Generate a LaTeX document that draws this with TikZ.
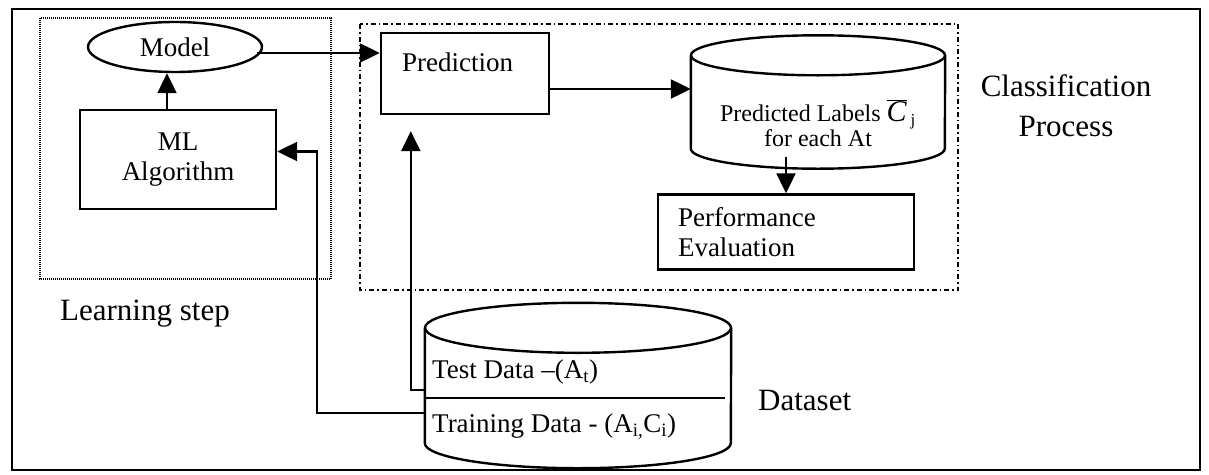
\documentclass[tikz,border=0pt]{standalone}
\usepackage{fontspec}
\setmainfont{Liberation Serif}
\usetikzlibrary{arrows.meta,calc,positioning,shapes.geometric}

\newcommand{\mainsize}{\fontsize{27}{30}\selectfont}
\newcommand{\labelsize}{\fontsize{31}{40}\selectfont}
\newcommand{\storesize}{\fontsize{24}{25}\selectfont}

% cylinder outline round an empty node: #1 node, #2 x radius, #3 y radius
\newcommand{\drum}[3]{%
  \draw[wire] ($(#1.north west)+(0,#3)$) -- ($(#1.south west)-(0,#3)$)
    arc[start angle=180, end angle=360, x radius=#2pt, y radius=#3pt]
    -- ($(#1.north east)+(0,#3)$);
  \draw[wire] ($(#1.north)+(0,#3)$) ellipse[x radius=#2pt, y radius=#3pt];
}

\tikzset{
  wire/.style={line width=2.4pt},
  box/.style={draw, line width=2.4pt, inner sep=0pt},
  drumbox/.style={inner sep=0pt},
  arr/.style={line width=2.2pt, -{Triangle[length=20pt,width=19pt]}},
}

\begin{document}
\begin{tikzpicture}[x=1pt, y=-1pt, font=\mainsize]
    \useasboundingbox (0,0) rectangle (1209,474);

    % outer frame and the two groups
    \draw[line width=2.2pt] (12,9) rectangle (1200,470);
    \draw[line width=2.4pt, dash pattern=on 1pt off 1pt] (40,18) rectangle (331,279);
    \draw[line width=2.4pt, dash pattern=on 5pt off 3pt on 1.5pt off 3pt] (360,24) rectangle (958,290);

    % ---------- learning step

    \node[draw, ellipse, line width=2.4pt, inner sep=0pt,
          minimum width=174pt, minimum height=50pt] (model) at (175,47) {Model};
    \node[box, minimum width=196pt, minimum height=99pt, align=center] (ml) at (178,159.5) {
    ML\\Algorithm
    };
    \node[anchor=base west, inner sep=0pt, font=\labelsize] (learnlbl) at (60,320) {Learning step};

    % ---------- classification process

    \node[box, minimum width=168pt, minimum height=81pt] (pred) at (465,73.5) {};
    \node[anchor=west, inner sep=0pt] (predtext) at (402,62) {Prediction};

    \node[drumbox, minimum width=254pt, minimum height=133pt] (store) at (818,102) {};
    \drum{store}{127}{20}
    \node[align=center, inner sep=0pt, font=\storesize] (storetext) at (818,123) {
    Predicted Labels {\fontsize{30}{25}\selectfont$\overline{\mbox{\itshape C}}$}\,\textsubscript{j}\\
    for each At
    };

    \node[box, minimum width=256pt, minimum height=75pt, text width=216pt,
          inner xsep=20pt, align=left] (perf) at (786,232) {
    Performance\\
    Evaluation
    };

    \node[align=center, inner sep=0pt, font=\labelsize] (classlbl) at (1066,106) {
    Classification\\
    Process
    };

    % ---------- dataset

    \node[drumbox, minimum width=306pt, minimum height=165pt] (dataset) at (578,385.5) {};
    \drum{dataset}{153}{25}
    \draw[wire] ($(dataset.west)+(0,12.5)$) -- ($(dataset.east)+(-6,12.5)$);
    \node[anchor=west, inner sep=0pt] (testdata) at (432,372) {Test Data --(A\textsubscript{t})};
    \node[anchor=west, inner sep=0pt] (traindata) at (432,427) {Training Data - (A\textsubscript{i,}C\textsubscript{i})};
    \node[anchor=base west, inner sep=0pt, font=\labelsize] (datalbl) at (758,410) {Dataset};

    % ---------- connectors

    \draw[arr] (ml.north) ++(-11,0) coordinate (a1) -- (a1 |- model.south);
    \draw[arr] (model.east) ++(-6,6) coordinate (a2) -- (a2 -| pred.west);
    \draw[arr] (pred.east) ++(0,15.5) coordinate (a3) -- (a3 -| store.west);
    \draw[arr] (perf.north) ++(0,-36) coordinate (a4) -- (perf.north);
    \draw[arr] ($(dataset.west)+(0,4.5)$) -| ($(pred.south west)+(31,16)$);
    \draw[arr] ($(dataset.west)+(0,27.5)$) -| ($(ml.east)+(40,-8)$) -- ($(ml.east)+(0,-8)$);

\end{tikzpicture}
\end{document}
